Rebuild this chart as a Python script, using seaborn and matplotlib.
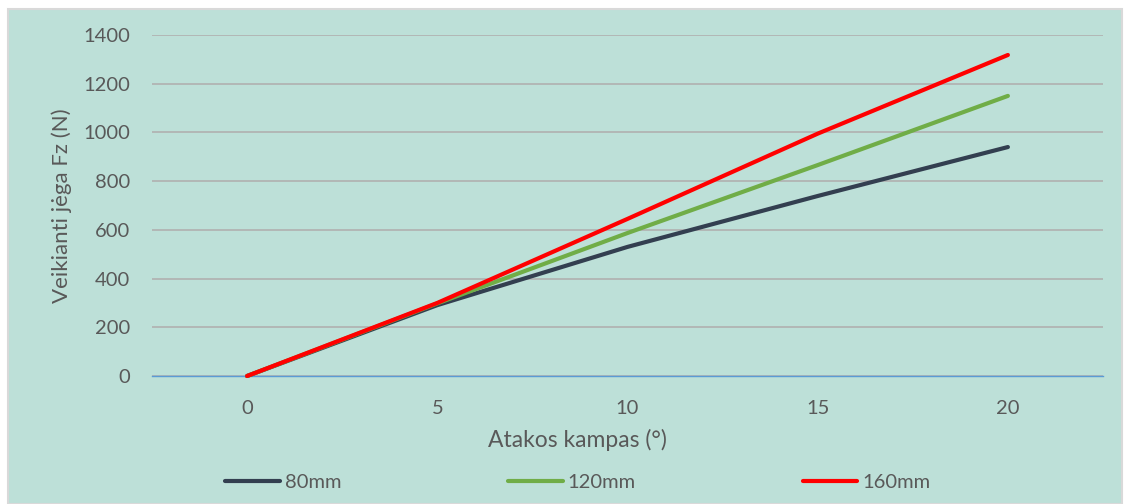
import pandas as pd
import matplotlib
matplotlib.use("Agg")
import matplotlib.pyplot as plt
import seaborn as sns
from matplotlib.patches import Rectangle

# Datos
angles = [0, 5, 10, 15, 20]
force_80 = [0, 291, 530, 739, 940]
force_120 = [0, 298, 587, 866, 1150]
force_160 = [0, 300, 645, 995, 1318]
series_names = ["80mm", "120mm", "160mm"]
colors = ["#333f50", "#70ad47", "#ff0000"]

df = pd.DataFrame({
    "angle": angles * 3,
    "force": force_80 + force_120 + force_160,
    "series": [s for s in series_names for _ in angles],
})

bg = "#bde0d8"
txt = "#595959"

sns.set(style="white")
plt.rcParams["font.family"] = ["Lato", "DejaVu Sans"]

fig = plt.figure(figsize=(11.25, 5.04), dpi=100, facecolor="white")
fig.patches.append(Rectangle((8 / 1125, 0), 1114 / 1125, 495 / 504,
                             transform=fig.transFigure, facecolor=bg,
                             edgecolor="#d9d9d9", linewidth=1.5, zorder=-10))
ax = fig.add_axes([152 / 1125, 1 - 376 / 504, 951 / 1125, 341 / 504])
ax.set_facecolor(bg)

sns.lineplot(data=df, x="angle", y="force", hue="series",
             palette=colors, linewidth=3.0, ax=ax, legend=False)
for ln in ax.lines:
    ln.set_solid_capstyle("round")
    ln.set_clip_on(False)
    ln.set_zorder(3)

ax.set_xlim(-2.5, 22.5)
ax.set_ylim(0, 1400)
ax.set_xticks(angles)
ax.set_yticks(range(0, 1401, 200))
ax.yaxis.grid(True, color="#b0b0b0", linewidth=1.2)
ax.set_axisbelow(True)
for side in ["top", "right", "left"]:
    ax.spines[side].set_visible(False)
ax.spines["bottom"].set_color("#5b9bd5")
ax.spines["bottom"].set_linewidth(1)
ax.tick_params(axis="both", length=0, labelsize=14.5, colors=txt)
ax.tick_params(axis="y", pad=16)
ax.tick_params(axis="x", pad=17)

ax.set_xlabel("")
ax.set_ylabel("Veikianti jėga Fz (N)", fontsize=16, color=txt, labelpad=8)
fig.text(577 / 1125, 1 - 440 / 504, "Atakos kampas (°)", ha="center",
         va="center", fontsize=16.5, color=txt)

handles = [plt.Line2D([], [], color=c, linewidth=3.0, solid_capstyle="round")
           for c in colors]
leg = fig.legend(handles, series_names, loc="center", ncol=3,
                 bbox_to_anchor=(578 / 1125, 1 - 482 / 504), frameon=False,
                 fontsize=14.5, handlelength=2.7, handletextpad=0.25,
                 columnspacing=8.3, labelcolor=txt)

fig.savefig("out.png", dpi=100, facecolor="white")
